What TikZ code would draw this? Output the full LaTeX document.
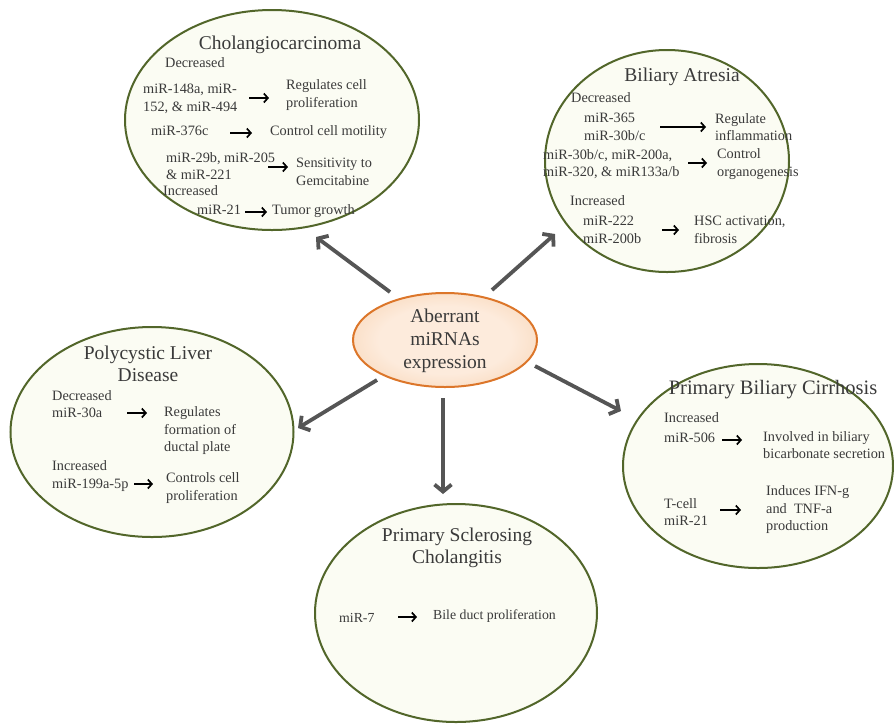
\documentclass[tikz,border=0pt]{standalone}
\usepackage{fontspec}
\setmainfont{Liberation Serif}
\usetikzlibrary{shapes.geometric,arrows.meta}
\definecolor{olivebd}{HTML}{52662A}
\definecolor{palein}{HTML}{FBFCF3}
\definecolor{paleout}{HTML}{E0E8C4}
\definecolor{peachin}{HTML}{FDEBDC}
\definecolor{peachout}{HTML}{F2BB88}
\definecolor{orangebd}{HTML}{DC762A}
\definecolor{arrowgray}{HTML}{555555}
\definecolor{txt}{HTML}{3A3A3A}
\pgfdeclareradialshading{paleshade}{\pgfpoint{0bp}{0bp}}{color(0bp)=(palein); color(32bp)=(palein); color(50bp)=(paleout); color(100bp)=(paleout)}
\pgfdeclareradialshading{peachshade}{\pgfpoint{0bp}{0bp}}{color(0bp)=(peachin); color(18bp)=(peachin); color(50bp)=(peachout); color(100bp)=(peachout)}
\tikzset{
  disease/.style={ellipse, draw=olivebd, line width=2pt, shading=paleshade, inner sep=0pt},
  hub/.style={ellipse, draw=orangebd, line width=2pt, shading=peachshade, inner sep=0pt},
  ttl/.style={font=\fontsize{19.5}{22.5}\selectfont, inner sep=0pt, align=center, text=txt},
  body/.style={font=\fontsize{14.3}{17.5}\selectfont, inner sep=0pt, align=left, anchor=west, text=txt},
  bodym/.style={body, anchor=mid west},
  small/.style={font=\fontsize{13.8}{15}\selectfont, inner sep=0pt, anchor=mid west, text=txt},
  sarr/.style={draw=black, line width=1.7pt, -{Straight Barb[length=4pt,width=9pt]}},
  bigarr/.style={draw=arrowgray, line width=3.8pt, -{Straight Barb[length=7pt,width=17pt]}},
}
\begin{document}
\begin{tikzpicture}[x=1pt,y=-1pt]
\useasboundingbox (0,0) rectangle (894,724);
% ellipses
\node[disease, minimum width=294pt, minimum height=220pt] (chol) at (272,120) {};
\node[disease, minimum width=244pt, minimum height=222pt] (ba) at (667,161) {};
\node[disease, minimum width=283pt, minimum height=210pt] (pld) at (152,432) {};
\node[disease, minimum width=270pt, minimum height=204pt] (pbc) at (758,466) {};
\node[disease, minimum width=282pt, minimum height=218pt] (psc) at (456,613) {};
\node[hub, minimum width=184pt, minimum height=94pt] (hub) at (445,340) {};
\node[ttl, font=\fontsize{19.5}{23}\selectfont] (hubt) at (445,341) {Aberrant\\miRNAs\\expression};

% big arrows
\coordinate (a1s) at (390,292); \coordinate (a1e) at (316,237);
\coordinate (a2s) at (492,290); \coordinate (a2e) at (555,234);
\coordinate (a3s) at (377,380); \coordinate (a3e) at (298,428);
\coordinate (a4s) at (443,398); \coordinate (a4e) at (443,494);
\coordinate (a5s) at (535,366); \coordinate (a5e) at (621,411);
\draw[bigarr] (a1s) -- (a1e);
\draw[bigarr] (a2s) -- (a2e);
\draw[bigarr] (a3s) -- (a3e);
\draw[bigarr] (a4s) -- (a4e);
\draw[bigarr] (a5s) -- (a5e);

% Cholangiocarcinoma
\node[ttl] (cholt) at (280,45) {Cholangiocarcinoma};
\node[bodym] (c1) at (165,65) {Decreased};
\node[body] (c2) at (143,99) {miR-148a, miR-\\152, \& miR-494};
\node[body] (c3) at (286,95) {Regulates cell\\proliferation};
\node[bodym] (c4) at (151,133) {miR-376c};
\node[bodym] (c5) at (270,133) {Control cell motility};
\node[body] (c6) at (166,166) {miR-29b, miR-205\\\& miR-221};
\node[body] (c7) at (296,172) {Sensitivity to\\Gemcitabine};
\node[bodym] (c8) at (163,193) {Increased};
\node[bodym] (c9) at (197,212) {miR-21};
\node[bodym] (c10) at (272,212) {Tumor growth};
\coordinate (ca1s) at (249,98); \coordinate (ca1e) at (269,98);
\coordinate (ca2s) at (230,133); \coordinate (ca2e) at (252,133);
\coordinate (ca3s) at (268,167); \coordinate (ca3e) at (288,167);
\coordinate (ca4s) at (245,212); \coordinate (ca4e) at (267,212);
\draw[sarr] (ca1s) -- (ca1e);
\draw[sarr] (ca2s) -- (ca2e);
\draw[sarr] (ca3s) -- (ca3e);
\draw[sarr] (ca4s) -- (ca4e);

% Biliary Atresia
\node[ttl] (bat) at (682,77) {Biliary Atresia};
\node[bodym] (b1) at (571,100) {Decreased};
\node[body] (b2) at (584,127) {miR-365\\miR-30b/c};
\node[body] (b3) at (715,127) {Regulate\\inflammation};
\node[body] (b4) at (543,164) {miR-30b/c, miR-200a,\\miR-320, \& miR133a/b};
\node[body] (b5) at (717,164) {Control\\organogenesis};
\node[bodym] (b6) at (570,203) {Increased};
\node[body] (b7) at (583,230) {miR-222\\miR-200b};
\node[body] (b8) at (694,230) {HSC activation,\\fibrosis};
\coordinate (ba1s) at (660,127); \coordinate (ba1e) at (706,127);
\coordinate (ba2s) at (688,163); \coordinate (ba2e) at (707,163);
\coordinate (ba3s) at (662,230); \coordinate (ba3e) at (679,230);
\draw[sarr] (ba1s) -- (ba1e);
\draw[sarr] (ba2s) -- (ba2e);
\draw[sarr] (ba3s) -- (ba3e);

% Polycystic Liver Disease
\node[ttl] (pldt) at (148,364) {Polycystic Liver\\Disease};
\node[body] (p1) at (52,404) {Decreased\\miR-30a};
\node[body] (p2) at (164,431) {Regulates\\formation of\\ductal plate};
\node[body] (p3) at (52,476) {Increased\\miR-199a-5p};
\node[body] (p4) at (166,488) {Controls cell\\proliferation};
\coordinate (pa1s) at (127,413); \coordinate (pa1e) at (147,413);
\coordinate (pa2s) at (134,484); \coordinate (pa2e) at (153,484);
\draw[sarr] (pa1s) -- (pa1e);
\draw[sarr] (pa2s) -- (pa2e);

% Primary Biliary Cirrhosis
\node[ttl, font=\fontsize{20.5}{23}\selectfont] (pbct) at (773,390) {Primary Biliary Cirrhosis};
\node[bodym] (r1) at (664,420) {Increased};
\node[bodym] (r2) at (664,440) {miR-506};
\node[body] (r3) at (763,445) {Involved in biliary\\bicarbonate secretion};
\node[body] (r4) at (664,512) {T-cell\\miR-21};
\node[body] (r5) at (766,510) {Induces IFN-g\\and\ \ TNF-a\\production};
\coordinate (ra1s) at (722,440); \coordinate (ra1e) at (742,440);
\coordinate (ra2s) at (720,510); \coordinate (ra2e) at (741,510);
\draw[sarr] (ra1s) -- (ra1e);
\draw[sarr] (ra2s) -- (ra2e);

% Primary Sclerosing Cholangitis
\node[ttl] (psct) at (457,548) {Primary Sclerosing\\Cholangitis};
\node[small] (s1) at (339,620) {miR-7};
\node[small] (s2) at (433,617) {Bile duct proliferation};
\coordinate (sa1s) at (398,617); \coordinate (sa1e) at (417,617);
\draw[sarr] (sa1s) -- (sa1e);
\end{tikzpicture}
\end{document}
